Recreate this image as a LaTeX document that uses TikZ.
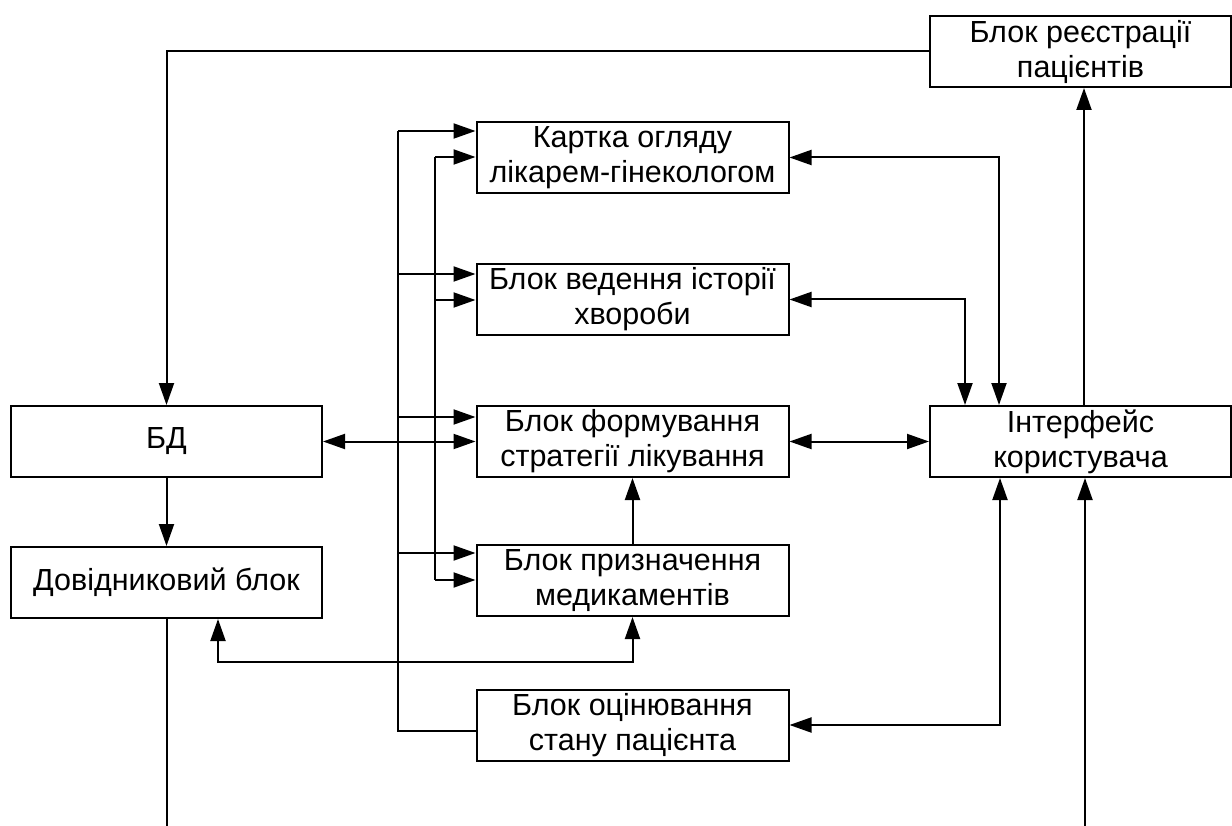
\documentclass[tikz,border=0pt]{standalone}
\usepackage{fontspec}
\setmainfont{Liberation Sans}
\usetikzlibrary{arrows.meta,calc}
\begin{document}
\begin{tikzpicture}[x=1pt,y=-1pt,
  blk/.style={draw,line width=2pt,inner sep=0pt,align=center,
    font=\fontsize{30.5}{35}\selectfont,minimum height=71pt},
  wide/.style={blk,minimum width=312pt},
  side/.style={blk,minimum width=301pt},
  conn/.style={line width=2pt},
  tip/.style={-{Triangle[length=22pt,width=15pt]}},
  tips/.style={{Triangle[length=22pt,width=15pt]}-{Triangle[length=22pt,width=15pt]}}]
\useasboundingbox (0,0) rectangle (1232,826);

% blocks
\node[side] (reg) at (1080.5,51.5) {Блок реєстрації\\пацієнтів};
\node[wide] (kart) at (632.5,157.5) {Картка огляду\\лікарем-гінекологом};
\node[wide] (ved) at (632.5,299.5) {Блок ведення історії\\хвороби};
\node[wide] (form) at (632.5,441.5) {Блок формування\\стратегії лікування};
\node[wide] (pryz) at (632.5,580.5) {Блок призначення\\медикаментів};
\node[wide] (otsin) at (632.5,725) {Блок оцінювання\\стану пацієнта};
\node[wide,minimum width=311pt] (bd) at (166.5,441.5) {БД};
\node[wide,minimum width=311pt] (dov) at (166.5,582.5) {Довідниковий блок};
\node[side] (int) at (1080.5,441.5) {Інтерфейс\\користувача};

% bus line fed by the evaluation block
\coordinate (busAtop) at (398,131);
\coordinate (busAbot) at (398,731);
\draw[conn] (otsin.west |- busAbot) -- (busAbot) -- (busAtop);
\draw[conn,tip] (busAtop) -- (kart.west |- busAtop);
\draw[conn,tip] (398,274) -- (ved.west |- 0,274);
\draw[conn,tip] (398,417) -- (form.west |- 0,417);
\draw[conn,tip] (398,553) -- (pryz.west |- 0,553);

% second bus line
\coordinate (busBtop) at (435,157);
\coordinate (busBbot) at (435,580);
\draw[conn] (busBtop) -- (busBbot);
\draw[conn,tip] (busBtop) -- (kart.west |- busBtop);
\draw[conn,tip] (435,300) -- (ved.west |- 0,300);
\draw[conn,tip] (busBbot) -- (pryz.west |- busBbot);

% database links
\draw[conn,tips] (bd.east) -- (form.west);
\draw[conn,tip] (bd.south) -- (dov.north);
\draw[conn,tip] (reg.west) -| (bd.north);
\coordinate (dovout) at (166.5,826);
\draw[conn] (dov.south) -- (dovout);

% reference block and medication block
\coordinate (dovp) at (218,618);
\draw[conn,tips] (dov.south -| dovp) -- (218,662) -- (pryz.south |- 0,662) -- (pryz.south);
\draw[conn,tip] (pryz.north) -- (form.south);

% user interface links
\draw[conn,tips] (kart.east) -- (999,157.5) -- (int.north -| 999,0);
\draw[conn,tips] (ved.east) -- (965,299.5) -- (int.north -| 965,0);
\draw[conn,tips] (form.east) -- (int.west);
\draw[conn,tips] (int.south -| 1000,0) -- (1000,725) -- (otsin.east);
\draw[conn,tip] (int.north -| 1084,0) -- (reg.south -| 1084,0);
\coordinate (intin) at (1085,826);
\draw[conn,tip] (intin) -- (int.south -| intin);
\end{tikzpicture}
\end{document}
